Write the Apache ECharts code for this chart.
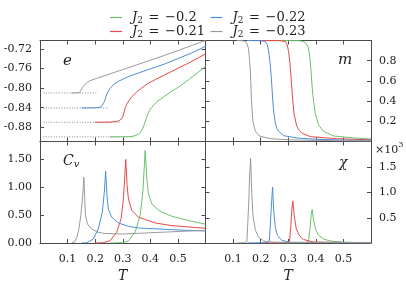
<!DOCTYPE html>
<html><head><meta charset="utf-8">
<script src="https://cdn.jsdelivr.net/npm/echarts@6/dist/echarts.min.js"></script>
<style>html,body{margin:0;padding:0;background:#fff}#c{width:406px;height:284px}</style>
</head><body><div id="c"></div>
<script>
// ---- categories / tick labels ----
const J2 = ['−0.2', '−0.21', '−0.22', '−0.23'];
const T_TICKS = [0.1, 0.2, 0.3, 0.4, 0.5];
const E_TICKS = [-0.88, -0.84, -0.80, -0.76, -0.72];
const M_TICKS = [0.2, 0.4, 0.6, 0.8];
const CV_TICKS = [0, 0.5, 1.0, 1.5];
const CHI_TICKS = [0.5, 1.0, 1.5];

// ---- energy e(T) ----
const e_020 = [[0.254,-0.8995],[0.30,-0.8994],[0.33,-0.899],[0.345,-0.897],[0.357,-0.894],[0.365,-0.89],[0.371,-0.884],[0.376,-0.877],[0.381,-0.869],[0.387,-0.859],[0.393,-0.8506],[0.40,-0.843],[0.41,-0.836],[0.425,-0.827],[0.45,-0.817],[0.478,-0.8064],[0.51,-0.795],[0.539,-0.7826],[0.57,-0.769],[0.6,-0.7554]];
const e_021 = [[0.199,-0.8696],[0.25,-0.8695],[0.275,-0.8685],[0.288,-0.866],[0.296,-0.8625],[0.301,-0.857],[0.306,-0.847],[0.31,-0.839],[0.315,-0.8325],[0.322,-0.826],[0.333,-0.8175],[0.35,-0.808],[0.369,-0.7996],[0.39,-0.791],[0.418,-0.7826],[0.448,-0.774],[0.478,-0.7656],[0.539,-0.7486],[0.6,-0.7302]];
const e_022 = [[0.151,-0.8404],[0.19,-0.8403],[0.212,-0.8398],[0.222,-0.838],[0.229,-0.834],[0.234,-0.827],[0.238,-0.819],[0.242,-0.812],[0.248,-0.8055],[0.254,-0.8005],[0.265,-0.7935],[0.284,-0.786],[0.32,-0.7765],[0.357,-0.769],[0.4,-0.7605],[0.45,-0.751],[0.5,-0.7395],[0.55,-0.728],[0.6,-0.7145]];
const e_023 = [[0.114,-0.8098],[0.135,-0.8096],[0.143,-0.8088],[0.148,-0.806],[0.153,-0.8005],[0.158,-0.7955],[0.164,-0.7915],[0.172,-0.7878],[0.185,-0.7838],[0.205,-0.7802],[0.25,-0.7715],[0.3,-0.762],[0.35,-0.7525],[0.4,-0.743],[0.45,-0.7333],[0.5,-0.7233],[0.55,-0.7128],[0.6,-0.7025]];
// ground-state reference levels (dotted)
const e_ground = [-0.8995, -0.8696, -0.8404, -0.8098];
const e_groundFrom = [0.012, 0.012, 0.012, 0.012];
const e_groundTo = [0.343, 0.294, 0.249, 0.206];

// ---- magnetisation m(T) ----
const m_020 = [[0.254,1],[0.34,0.998],[0.355,0.99],[0.365,0.97],[0.3734,0.926],[0.378,0.84],[0.3818,0.728],[0.385,0.6],[0.389,0.464],[0.3975,0.282],[0.4095,0.167],[0.4275,0.101],[0.4637,0.055],[0.536,0.035],[0.6,0.025]];
const m_021 = [[0.199,1],[0.27,0.998],[0.289,0.99],[0.296,0.96],[0.301,0.893],[0.306,0.78],[0.3095,0.661],[0.313,0.53],[0.3167,0.397],[0.3215,0.266],[0.331,0.15],[0.34,0.11],[0.349,0.084],[0.3795,0.048],[0.4757,0.028],[0.6,0.016]];
const m_022 = [[0.151,1],[0.2,0.998],[0.217,0.99],[0.224,0.96],[0.229,0.893],[0.234,0.78],[0.238,0.65],[0.241,0.53],[0.244,0.4],[0.247,0.30],[0.253,0.183],[0.259,0.13],[0.265,0.101],[0.283,0.058],[0.331,0.035],[0.4,0.022],[0.5,0.014],[0.6,0.01]];
const m_023 = [[0.114,1],[0.135,0.998],[0.145,0.99],[0.151,0.965],[0.156,0.92],[0.16,0.8],[0.163,0.68],[0.166,0.45],[0.169,0.3],[0.172,0.2],[0.177,0.14],[0.181,0.10],[0.19,0.07],[0.199,0.051],[0.235,0.028],[0.3,0.017],[0.4,0.011],[0.5,0.008],[0.6,0.006]];

// ---- specific heat Cv(T) ----
const cv_020 = [[0.254,0],[0.3,0.005],[0.3206,0.04],[0.3448,0.19],[0.363,0.49],[0.3728,0.905],[0.3813,1.65],[0.3874,1.14],[0.3934,0.875],[0.4056,0.696],[0.4299,0.58],[0.478,0.476],[0.539,0.4],[0.6,0.335]];
const cv_021 = [[0.199,0],[0.23,0.005],[0.2538,0.04],[0.278,0.19],[0.2939,0.43],[0.3024,0.786],[0.3109,1.49],[0.3157,1.024],[0.3206,0.786],[0.3327,0.58],[0.357,0.46],[0.4177,0.357],[0.478,0.31],[0.6,0.262]];
const cv_022 = [[0.151,0],[0.17,0.005],[0.193,0.07],[0.2113,0.25],[0.2259,0.55],[0.2332,0.905],[0.238,1.28],[0.2429,0.845],[0.2477,0.607],[0.2599,0.46],[0.2842,0.357],[0.3206,0.298],[0.357,0.268],[0.478,0.238],[0.6,0.214]];
const cv_023 = [[0.114,0],[0.12,0.005],[0.126,0.02],[0.135,0.12],[0.142,0.28],[0.148,0.49],[0.153,0.75],[0.157,1.0],[0.159,1.17],[0.161,0.95],[0.163,0.67],[0.165,0.49],[0.172,0.34],[0.187,0.25],[0.211,0.19],[0.236,0.17],[0.296,0.16],[0.357,0.173],[0.478,0.2],[0.6,0.225]];

// ---- susceptibility chi(T) (x10^3) ----
const chi_020 = [[0.254,0],[0.36,0.005],[0.3734,0.03],[0.3795,0.31],[0.383,0.55],[0.3867,0.667],[0.391,0.48],[0.3986,0.28],[0.409,0.16],[0.4275,0.08],[0.4516,0.04],[0.5,0.015],[0.6,0.006]];
const chi_021 = [[0.199,0],[0.29,0.005],[0.3047,0.03],[0.3095,0.35],[0.313,0.65],[0.3167,0.83],[0.3215,0.55],[0.329,0.28],[0.341,0.14],[0.355,0.07],[0.391,0.02],[0.6,0.004]];
const chi_022 = [[0.151,0],[0.22,0.005],[0.231,0.03],[0.235,0.35],[0.2396,0.81],[0.2432,1.11],[0.247,0.65],[0.253,0.31],[0.261,0.15],[0.277,0.05],[0.307,0.015],[0.6,0.004]];
const chi_023 = [[0.114,0],[0.14,0.005],[0.150,0.03],[0.1565,0.75],[0.160,1.35],[0.1637,1.68],[0.167,1.08],[0.172,0.55],[0.181,0.25],[0.193,0.11],[0.211,0.04],[0.235,0.02],[0.3,0.01],[0.6,0.004]];

// ---- styles ----
const COLORS = ['#6cc06c', '#e8484c', '#4c8ed6', '#9a9a9a'];
const FRAME = '#4a4a4a';
const FONT = 'DejaVu Serif';
const TXT = '#222';

const E_SETS = [e_020, e_021, e_022, e_023];
const M_SETS = [m_020, m_021, m_022, m_023];
const CV_SETS = [cv_020, cv_021, cv_022, cv_023];
const CHI_SETS = [chi_020, chi_021, chi_022, chi_023];

const grids = [
  {left: 40, top: 40.5, width: 165.5, height: 101},
  {left: 205.5, top: 40.5, width: 165.5, height: 101},
  {left: 40, top: 141.5, width: 165.5, height: 101.5},
  {left: 205.5, top: 141.5, width: 165.5, height: 101.5}
];

const labelStyle = {fontFamily: FONT, fontSize: 11, color: TXT};

function xAx(g, pos, showLab) {
  const ax = {
    type: 'value', gridIndex: g, position: pos, min: 0, max: 0.6,
    axisLine: {show: true, onZero: false, lineStyle: {color: FRAME, width: 1}},
    axisTick: {show: true, inside: true, length: 4, customValues: T_TICKS, lineStyle: {color: FRAME}},
    axisLabel: Object.assign({show: showLab, customValues: T_TICKS, margin: 11, formatter: v => v.toFixed(1)}, labelStyle),
    splitLine: {show: false}
  };
  if (showLab) {
    ax.name = 'T'; ax.nameLocation = 'middle'; ax.nameGap = 26;
    ax.nameTextStyle = {fontFamily: FONT, fontStyle: 'italic', fontSize: 14, color: TXT};
  }
  return ax;
}
function yAx(g, pos, min, max, ticks, showLab, dec) {
  return {
    type: 'value', gridIndex: g, position: pos, min: min, max: max,
    axisLine: {show: true, onZero: false, lineStyle: {color: FRAME, width: 1}},
    axisTick: {show: true, inside: true, length: 4, customValues: ticks, lineStyle: {color: FRAME}},
    axisLabel: Object.assign({show: showLab, customValues: ticks, margin: 8, formatter: v => v.toFixed(dec)}, labelStyle),
    splitLine: {show: false}
  };
}

const xAxis = [], yAxis = [];
for (let g = 0; g < 4; g++) {
  xAxis.push(xAx(g, 'bottom', g >= 2));
  xAxis.push(xAx(g, 'top', false));
}
const yDefs = [
  [-0.909, -0.7026, E_TICKS, 2],
  [0, 1, M_TICKS, 1],
  [0, 1.81, CV_TICKS, 2],
  [0, 2.01, CHI_TICKS, 1]
];
for (let g = 0; g < 4; g++) {
  const d = yDefs[g];
  const leftLab = (g % 2 === 0);
  yAxis.push(yAx(g, 'left', d[0], d[1], d[2], leftLab, d[3]));
  yAxis.push(yAx(g, 'right', d[0], d[1], d[2], !leftLab, d[3]));
}

const series = [];
// dotted ground lines first (under the curves)
for (let i = 0; i < 4; i++) {
  series.push({
    type: 'line', name: 'ground' + i, xAxisIndex: 0, yAxisIndex: 0,
    data: [[e_groundFrom[i], e_ground[i]], [e_groundTo[i], e_ground[i]]],
    showSymbol: false, symbol: 'none', silent: true,
    lineStyle: {color: '#8a8a8a', width: 1, type: [1, 1.6]}, z: 1
  });
}
const panelSets = [E_SETS, M_SETS, CV_SETS, CHI_SETS];
for (let g = 0; g < 4; g++) {
  for (let i = 0; i < 4; i++) {
    series.push({
      type: 'line', name: J2[i], xAxisIndex: 2 * g, yAxisIndex: 2 * g + (g % 2),
      data: panelSets[g][i], showSymbol: false, symbol: 'none',
      color: COLORS[i], lineStyle: {color: COLORS[i], width: 1}, z: 2
    });
  }
}

const legendRich = {
  j: {fontFamily: FONT, fontStyle: 'italic', fontSize: 13, color: TXT, padding: [0, 0, 0, 5]},
  s: {fontFamily: FONT, fontSize: 9, color: TXT, padding: [6, 0, 0, 0]},
  e: {fontFamily: FONT, fontSize: 13, color: TXT, padding: [0, 1.5, 0, 1.5]},
  t: {fontFamily: FONT, fontSize: 13, color: TXT}
};
function legendAt(name, left, top) {
  return {
    data: [name], left: left, top: top, padding: 0, itemGap: 0,
    icon: 'rect', itemWidth: 12, itemHeight: 1.2, selectedMode: false,
    formatter: n => '{j|J}{s|2}{e| = }{t|' + n + '}',
    textStyle: {rich: legendRich}
  };
}

const option = {
  animation: false,
  backgroundColor: '#fff',
  grid: grids,
  xAxis: xAxis,
  yAxis: yAxis,
  legend: [
    legendAt(J2[0], 110, 11),
    legendAt(J2[1], 110, 25),
    legendAt(J2[2], 210.5, 11),
    legendAt(J2[3], 210.5, 25)
  ],
  graphic: [
    {type: 'text', left: 63, top: 54, style: {text: 'e', font: 'italic 15px "DejaVu Serif"', fill: TXT}},
    {type: 'text', left: 338, top: 53, style: {text: 'm', font: 'italic 15px "DejaVu Serif"', fill: TXT}},
    {type: 'text', left: 63, top: 154, style: {text: '{c|C}{v|v}', rich: {
      c: {fontFamily: FONT, fontStyle: 'italic', fontSize: 14, fill: TXT},
      v: {fontFamily: FONT, fontStyle: 'italic', fontSize: 10, fill: TXT, padding: [6, 0, 0, 0]}}}},
    {type: 'text', left: 339, top: 156, style: {text: 'χ', font: 'italic 14px "DejaVu Serif"', fill: TXT}},
    {type: 'text', left: 375, top: 141, style: {text: '{a|×10}{b|3}', rich: {
      a: {fontFamily: FONT, fontSize: 11, fill: TXT, padding: [4, 0, 0, 0]},
      b: {fontFamily: FONT, fontSize: 8, fill: TXT, padding: [0, 0, 6, 0]}}}}
  ],
  series: series
};

const chart = echarts.init(document.getElementById('c'), null, {renderer: 'canvas'});
chart.setOption(option);
</script>
</body></html>
